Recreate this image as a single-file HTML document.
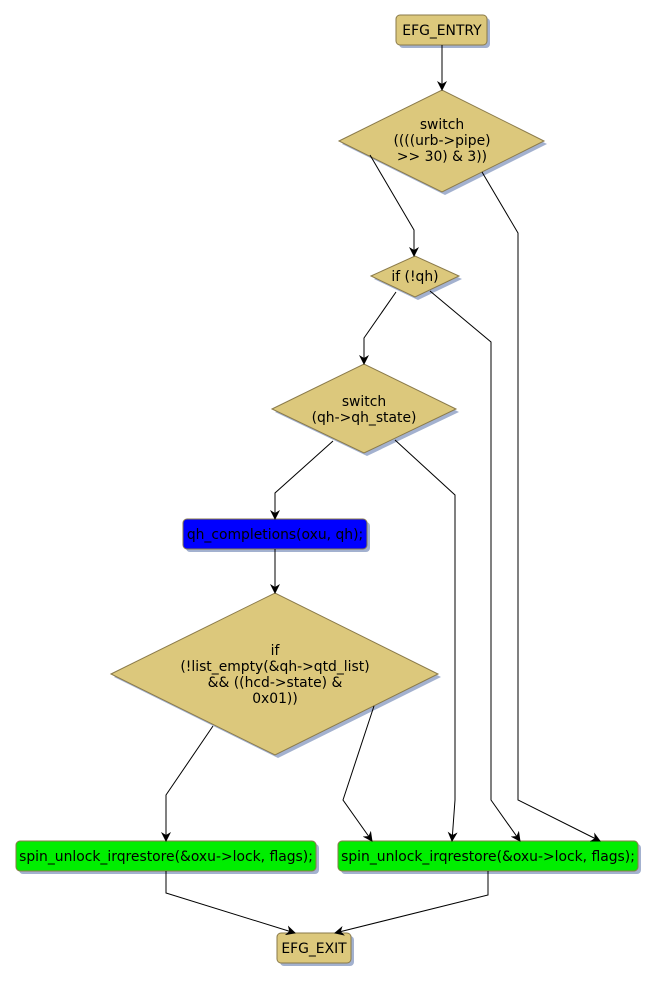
<!DOCTYPE html>
<html><head><meta charset="utf-8"><style>body{margin:0;background:#fff}svg{display:block}</style></head><body>
<svg width="657" height="983" viewBox="0 0 657 983" xmlns="http://www.w3.org/2000/svg" font-family="DejaVu Sans, sans-serif" font-size="13.9">
<defs><marker id="a" markerWidth="10" markerHeight="10" refX="9" refY="5" orient="auto" markerUnits="userSpaceOnUse"><path d="M0,0 L10,5 L0,10 L3,5 z" fill="#000"/></marker></defs>
<g fill="#a3b1cf">
<rect x="399" y="18" width="91" height="30" rx="4"/>
<polygon points="342,144 445,93 547,144 445,195"/>
<polygon points="374,279 418,259 462,279 418,300"/>
<polygon points="275,412 367,367 459,412 367,456"/>
<rect x="186" y="522" width="184" height="30" rx="4"/>
<polygon points="114,677 278,596 441,677 278,758"/>
<rect x="19" y="844" width="300" height="30" rx="4"/>
<rect x="341" y="844" width="300" height="30" rx="4"/>
<rect x="280" y="936" width="74" height="30" rx="4"/>
</g>
<g stroke="#8a7a4a" stroke-width="1">
<rect x="396" y="15" width="91" height="30" rx="4" fill="#dcc87c"/>
<polygon points="339,141 442,90 544,141 442,192" fill="#dcc87c"/>
<polygon points="371,276 415,256 459,276 415,297" fill="#dcc87c"/>
<polygon points="272,409 364,364 456,409 364,453" fill="#dcc87c"/>
<rect x="183" y="519" width="184" height="30" rx="4" fill="#0000ff"/>
<polygon points="111,674 275,593 438,674 275,755" fill="#dcc87c"/>
<rect x="16" y="841" width="300" height="30" rx="4" fill="#00ee00"/>
<rect x="338" y="841" width="300" height="30" rx="4" fill="#00ee00"/>
<rect x="277" y="933" width="74" height="30" rx="4" fill="#dcc87c"/>
</g>
<g fill="none" stroke="#000" stroke-width="1" marker-end="url(#a)">
<path d="M442,45 L442,90"/>
<path d="M370,155 L414,230 L414,256"/>
<path d="M482,172 L518,233 L518,800 L600,841"/>
<path d="M396,292 L364,338 L364,364"/>
<path d="M430,291 L491,342 L491,800 L520,841"/>
<path d="M333,441 L275,493 L275,519"/>
<path d="M395,440 L455,495 L455,800 L452,841"/>
<path d="M275,549 L275,593"/>
<path d="M213,726 L166,795 L166,841"/>
<path d="M374,706 L343,800 L372,841"/>
<path d="M166,871 L166,893 L295,933"/>
<path d="M488,871 L488,895 L335,933"/>
</g>
<g fill="#000" text-anchor="middle">
<text x="442" y="35">EFG_ENTRY</text>
<text x="442" y="129">switch</text>
<text x="442" y="145">((((urb-&gt;pipe)</text>
<text x="442" y="161">&gt;&gt; 30) &amp; 3))</text>
<text x="415" y="281">if (!qh)</text>
<text x="364" y="406">switch</text>
<text x="364" y="422">(qh-&gt;qh_state)</text>
<text x="275" y="539">qh_completions(oxu, qh);</text>
<text x="275" y="655">if</text>
<text x="275" y="671">(!list_empty(&amp;qh-&gt;qtd_list)</text>
<text x="275" y="687">&amp;&amp; ((hcd-&gt;state) &amp;</text>
<text x="275" y="703">0x01))</text>
<text x="166" y="861">spin_unlock_irqrestore(&amp;oxu-&gt;lock, flags);</text>
<text x="488" y="861">spin_unlock_irqrestore(&amp;oxu-&gt;lock, flags);</text>
<text x="314" y="953">EFG_EXIT</text>
</g>
</svg>
</body></html>
